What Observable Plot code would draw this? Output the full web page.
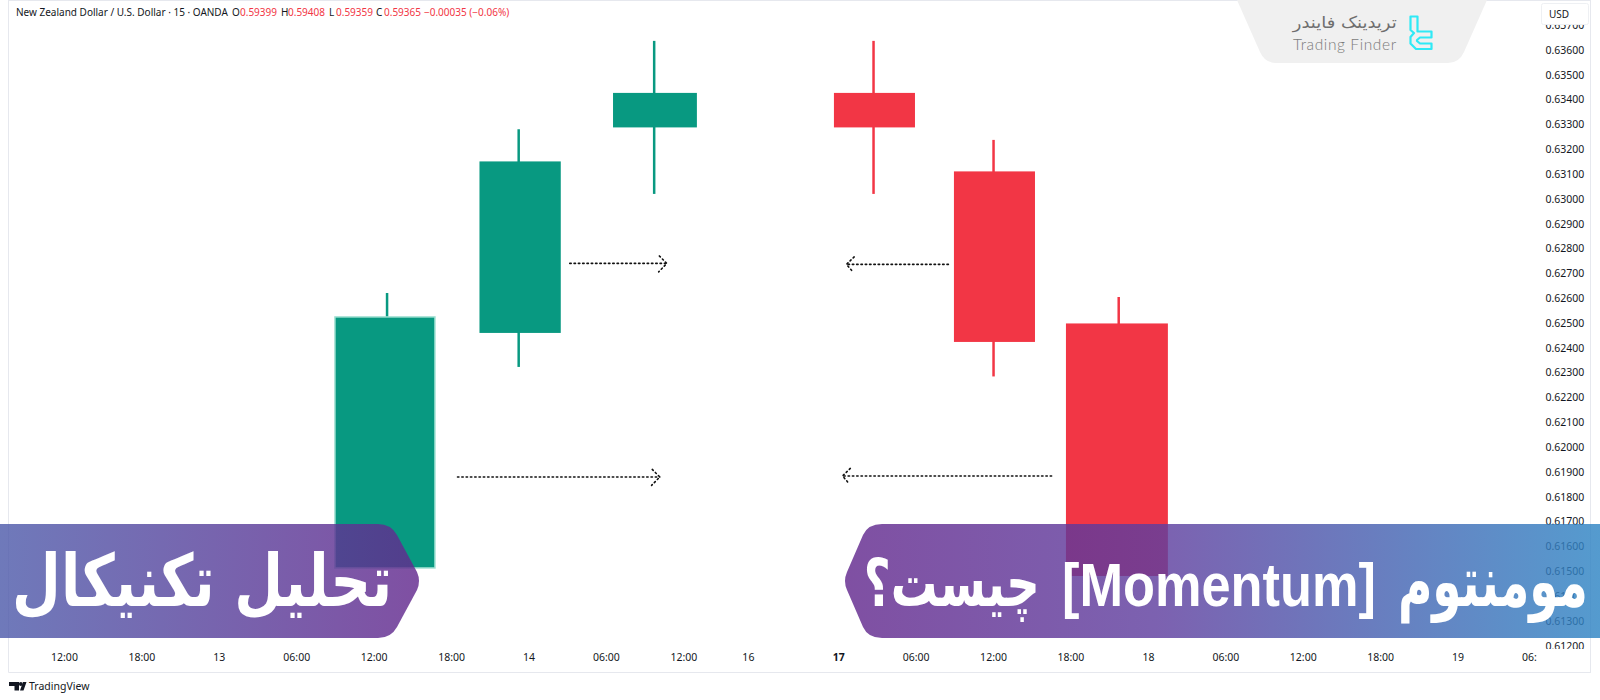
<!DOCTYPE html>
<html><head><meta charset="utf-8">
<script src="https://cdn.jsdelivr.net/npm/d3@7"></script>
<script src="https://cdn.jsdelivr.net/npm/@observablehq/plot@0.6"></script>
<style>
html,body{margin:0;padding:0;background:#fff;width:1600px;height:700px;overflow:hidden}
#wrap{position:relative;width:1600px;height:700px;overflow:hidden}
#wrap svg{position:absolute;left:0;top:0}
.abs{position:absolute;white-space:pre}
.ban{color:#fff;font-weight:700;direction:rtl;font-family:"DejaVu Sans",sans-serif}
.ban .o{display:inline-block;vertical-align:baseline;direction:rtl}
.ban .i{display:inline-block;transform-origin:100% 50%}
</style></head><body><div id="wrap"></div>
<script>
const names=["c1","c2","c3","c4","c5","c6"];
const xStart=[33.0,44.2,54.55,71.67,80.97,89.65];
const xEnd=[40.75,50.5,61.05,77.95,87.25,97.55];
const xMid=[37.0,47.2,57.7,74.7,84.0,93.7];
const open=[0.615131,0.624599,0.632878,0.634268,0.631106,0.624981];
const close=[0.625243,0.631508,0.634268,0.632878,0.624236,0.614808];
const high=[0.62621,0.632804,0.636364,0.636364,0.632375,0.62605];
const low=[0.615131,0.623229,0.630199,0.630199,0.622846,0.614808];
const yTicks=[0.612,0.613,0.614,0.615,0.616,0.617,0.618,0.619,0.62,0.621,0.622,0.623,0.624,0.625,0.626,0.627,0.628,0.629,0.63,0.631,0.632,0.633,0.634,0.635,0.636,0.637];
const xTicks=[12,18,24,30,36,42,48,54,60,65,78,84,90,96,102,108,114,120,126];
const xTickLabels=["12:00","18:00","13","06:00","12:00","18:00","14","06:00","12:00","16","06:00","12:00","18:00","18","06:00","12:00","18:00","19","06:00"];
const boldTicks=[72], boldLabels=["17"];
const arrowLines=[
 {id:"a1",x:[51.16,58.68],p:[0.62742,0.62742]},
 {id:"a2",x:[42.46,58.14],p:[0.618817,0.618817]},
 {id:"a3",x:[80.5,72.6],p:[0.627379,0.627379]},
 {id:"a4",x:[88.5,72.3],p:[0.618857,0.618857]}];
const arrowHeads=[
 {id:"a1",x:[58.1,58.68,58.05],p:[0.62772,0.62742,0.62708]},
 {id:"a2",x:[57.55,58.14,57.5],p:[0.61912,0.618817,0.61848]},
 {id:"a3",x:[73.2,72.6,73.1],p:[0.62768,0.627379,0.62708]},
 {id:"a4",x:[72.9,72.3,72.8],p:[0.61916,0.618857,0.61855]}];

const GREEN="#089981",RED="#f23645",INK="#131722";
const bars=names.map((n,i)=>({n,x1:xStart[i],x2:xEnd[i],xm:xMid[i],o:open[i],c:close[i],h:high[i],l:low[i],col:close[i]>=open[i]?GREEN:RED,edge:i===0?"#9fe0d2":"none"}));
const flat=a=>a.flatMap(d=>d.x.map((x,i)=>({id:d.id,x,p:d.p[i]})));
const tf=new Map(xTicks.map((t,i)=>[t,xTickLabels[i]]));
const FONT='"Noto Sans",sans-serif';
const chart=Plot.plot({
 width:1600,height:700,marginLeft:9,marginRight:63,marginTop:2,marginBottom:28,
 style:{background:"transparent",fontFamily:FONT,fontSize:"10.5px",color:INK},
 x:{type:"linear",domain:[7.74,126.155],axis:null},
 y:{type:"linear",domain:[0.61094,0.63793],axis:null},
 marks:[
  Plot.ruleX(bars,{x:"xm",y1:"l",y2:"h",stroke:"col",strokeWidth:2.5}),
  Plot.rect(bars,{x1:"x1",x2:"x2",y1:"o",y2:"c",fill:"col",stroke:"edge",strokeWidth:1.5}),
  Plot.line(flat(arrowLines),{x:"x",y:"p",z:"id",stroke:"#111",strokeWidth:1.6,strokeDasharray:"1.4 2.9",curve:"linear"}),
  Plot.line(flat(arrowHeads),{x:"x",y:"p",z:"id",stroke:"#111",strokeWidth:1.6,strokeDasharray:"1.4 2.9",curve:"linear"}),
  Plot.axisY({anchor:"right",ticks:yTicks,tickSize:0,tickPadding:8,tickFormat:d3.format(".5f"),fill:INK,fontSize:10.5}),
  Plot.axisX({anchor:"bottom",ticks:xTicks,tickSize:0,tickPadding:-19,tickFormat:d=>tf.get(d),fill:INK,fontSize:10.5}),
  Plot.axisX({anchor:"bottom",ticks:boldTicks,tickSize:0,tickPadding:-19,tickFormat:()=>boldLabels[0],fill:INK,fontSize:10.5,fontWeight:700})
 ]});
const wrap=document.getElementById("wrap");
wrap.appendChild(chart);

const overlay=`<svg width="1600" height="700" viewBox="0 0 1600 700" xmlns="http://www.w3.org/2000/svg" style="pointer-events:none">
<defs>
<linearGradient id="gl" x1="0" x2="1" y1="0" y2="0"><stop offset="0" stop-color="#4f5cab"/><stop offset="1" stop-color="#63298e"/></linearGradient>
<linearGradient id="gr" x1="0" x2="1" y1="0" y2="0"><stop offset="0" stop-color="#63298e"/><stop offset="0.42" stop-color="#5f3f9f"/><stop offset="1" stop-color="#2f85c4"/></linearGradient>
</defs>
<rect x="1537" y="649" width="53" height="23" fill="#fff"/>
<path d="M8.5 0V672.5H1591M1590.5 0V672.5M8 .5H1590" fill="none" stroke="#e6e8ee" stroke-width="1"/>
<path d="M1237 0H1487L1464 52Q1459 63 1448 63H1276Q1265 63 1260 52Z" fill="#f0f0f0"/>
<path d="M1410.5 16.5H1417.5V31.5H1431.5V37.5H1420L1417 40V41L1420 43.5H1431.5V49H1416L1410.5 43.5V37L1414 33L1410.5 30Z" fill="none" stroke="#2fe9f6" stroke-width="2.2" stroke-linejoin="round"/>
<rect x="1541.5" y="3.5" width="47" height="21" rx="2" fill="#fff" stroke="#eef0f3"/>
<path d="M0 524H378Q391 524 397 535L417 572Q421 581 417 590L397 627Q391 638 378 638H0Z" fill="url(#gl)" fill-opacity="0.82"/>
<path d="M1600 524H882Q868 524 863 535L847 572Q843 581 847 590L863 627Q868 638 882 638H1600Z" fill="url(#gr)" fill-opacity="0.82"/>
<path d="M9 682H19V690.5H14.5V686H9ZM20 690.5L23 682H26.5L23.5 690.5Z" fill="#131722"/><circle cx="20.8" cy="684" r="1.9" fill="#131722"/>
</svg>`;
wrap.insertAdjacentHTML("beforeend",overlay);

const add=(css,html,cls="")=>{const d=document.createElement("div");d.className="abs "+cls;d.style.cssText=css;d.innerHTML=html;wrap.appendChild(d);return d;};
const HF='10px/15px "Noto Sans",sans-serif';
add(`left:16px;top:5px;font:${HF};color:${INK}`,`New Zealand Dollar / U.S. Dollar · 15 · OANDA`);
[[232,"O"],[281,"H"],[329,"L"],[376,"C"]].forEach(([x,t])=>add(`left:${x}px;top:5px;font:${HF};color:${INK}`,t));
[[240,"0.59399"],[288,"0.59408"],[336,"0.59359"],[384,"0.59365"],[424,"−0.00035 (−0.06%)"]].forEach(([x,t])=>add(`left:${x}px;top:5px;font:${HF};color:#f23645`,t));
add(`left:1549px;top:7px;font:10px/14px "Noto Sans",sans-serif;color:${INK}`,"USD");
const fit=(el,w)=>{const i=el.querySelector(".i");const w0=i.getBoundingClientRect().width;i.style.transform=`scaleX(${w/w0})`;i.style.width=w0+"px";el.style.width=w+"px";};
const seg=(t,w,extra="",ml=0)=>`<span class="o" data-w="${w}" style="margin-left:${ml}px"><span class="i" style='${extra}'>${t}</span></span>`;
const fitAll=d=>d.querySelectorAll(".o").forEach(o=>fit(o,+o.dataset.w));
const lg=add(`right:203px;top:11px;font:16px/24px "DejaVu Sans",sans-serif;color:#6e6e6e;direction:rtl`,`<span class="o" data-w="104" style="display:inline-block"><span class="i" style="display:inline-block;transform-origin:100% 50%">تریدینک فایندر</span></span>`);
fitAll(lg);
add(`left:1293px;top:34px;font:300 15.5px/20px Lato,sans-serif;color:#7a7a7a;letter-spacing:.6px`,"Trading Finder");
add(`left:29px;top:678px;font:10.5px/16px "Noto Sans",sans-serif;color:${INK}`,"TradingView");
const b1=add(`right:1208px;top:536px;font-size:72px;line-height:90px`,seg("تحلیل تکنیکال",380),"ban");
fitAll(b1);
const b2=add(`right:12px;top:537px;font-size:64px;line-height:90px`,
 seg("مومنتوم",190,"font-size:70px")+" "+seg("[Momentum]",314,'font-family:"Liberation Sans",sans-serif;font-size:62px')+" "+seg("چیست؟",176,"font-size:66px"),"ban");
fitAll(b2);
</script></body></html>
